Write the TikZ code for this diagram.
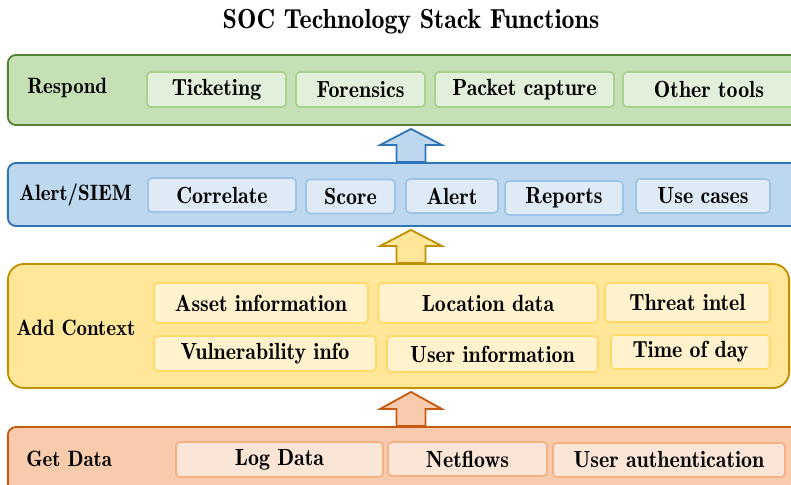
\documentclass[tikz,border=0pt]{standalone}
\usepackage{fontspec}
\newfontfamily\stackfont{lmromandemi10-regular.otf}[FakeStretch=0.94]
\usetikzlibrary{calc}
\definecolor{respFill}{HTML}{C5E0B4}
\definecolor{respLine}{HTML}{548235}
\definecolor{respBoxFill}{HTML}{E2EFDA}
\definecolor{respBoxLine}{HTML}{A9D18E}
\definecolor{siemFill}{HTML}{BDD7EE}
\definecolor{siemLine}{HTML}{2E75B6}
\definecolor{siemBoxFill}{HTML}{DEEBF7}
\definecolor{siemBoxLine}{HTML}{9DC3E6}
\definecolor{ctxFill}{HTML}{FFE699}
\definecolor{ctxLine}{HTML}{BF9000}
\definecolor{ctxBoxFill}{HTML}{FFF2CC}
\definecolor{ctxBoxLine}{HTML}{FFD966}
\definecolor{dataFill}{HTML}{F8CBAD}
\definecolor{dataLine}{HTML}{C55A11}
\definecolor{dataBoxFill}{HTML}{FBE5D6}
\definecolor{dataBoxLine}{HTML}{F4B183}
\begin{document}
\begin{tikzpicture}[
		x=0.025cm, y=-0.025cm,
		every node/.style={font=\stackfont\fontsize{16.6}{19}\selectfont},
		band/.style={draw, rounded corners=0.2cm, line width=1.3pt, inner sep=0pt},
		item/.style={draw, rounded corners=0.1cm, line width=1.2pt, inner sep=0pt},
		layer/.style={anchor=west, inner sep=0pt, font=\stackfont\fontsize{15.8}{18}\selectfont}
		]
		\useasboundingbox (0,0) rectangle (791,485);
		\node[font=\stackfont\fontsize{19.6}{23}\selectfont] (title) at (411,22) {SOC Technology Stack Functions};
		
		% layers
		\node[band, fill=respFill, draw=respLine, minimum width=19.8cm, minimum height=1.75cm] (respond) at (404,90) {};
		\node[band, fill=siemFill, draw=siemLine, minimum width=19.8cm, minimum height=1.575cm] (siem) at (404,194.5) {};
		\node[band, fill=ctxFill, draw=ctxLine, rounded corners=0.4cm, minimum width=19.525cm, minimum height=3.1cm] (context) at (398.5,326) {};
		\node[band, fill=dataFill, draw=dataLine, minimum width=19.8cm, minimum height=1.825cm] (getdata) at (404,463.5) {};
		
		\node[layer] (respondlbl) at (27,88) {Respond};
		\node[layer] (siemlbl) at (19,195) {Alert/SIEM};
		\node[layer] (contextlbl) at (16,328) {Add Context};
		\node[layer] (getdatalbl) at (26,459) {Get Data};
		
		% Respond
		\node[item, fill=respBoxFill, draw=respBoxLine, minimum width=3.475cm, minimum height=0.875cm] (ticket) at (216.5,89.5) {Ticketing};
		\node[item, fill=respBoxFill, draw=respBoxLine, minimum width=3.225cm, minimum height=0.875cm] (forensics) at (360.5,89.5) {Forensics};
		\node[item, fill=respBoxFill, draw=respBoxLine, minimum width=4.475cm, minimum height=0.875cm] (pcap) at (524.5,89.5) {Packet capture};
		\node[item, fill=respBoxFill, draw=respBoxLine, minimum width=4.3cm, minimum height=0.875cm] (othertools) at (709,89.5) {Other tools};
		
		% Alert/SIEM
		\node[item, fill=siemBoxFill, draw=siemBoxLine, minimum width=3.7cm, minimum height=0.85cm] (correlate) at (222,195) {Correlate};
		\node[item, fill=siemBoxFill, draw=siemBoxLine, minimum width=2.225cm, minimum height=0.85cm] (score) at (350.5,196.5) {Score};
		\node[item, fill=siemBoxFill, draw=siemBoxLine, minimum width=2.3cm, minimum height=0.85cm] (alert) at (452,196) {Alert};
		\node[item, fill=siemBoxFill, draw=siemBoxLine, minimum width=2.95cm, minimum height=0.85cm] (reports) at (564,198) {Reports};
		\node[item, fill=siemBoxFill, draw=siemBoxLine, minimum width=3.35cm, minimum height=0.85cm] (usecases) at (703,196) {Use cases};
		
		% Add Context
		\node[item, fill=ctxBoxFill, draw=ctxBoxLine, minimum width=5.35cm, minimum height=1cm] (asset) at (261,303) {Asset information};
		\node[item, fill=ctxBoxFill, draw=ctxBoxLine, minimum width=5.475cm, minimum height=1cm] (location) at (488,303) {Location data};
		\node[item, fill=ctxBoxFill, draw=ctxBoxLine, minimum width=4.125cm, minimum height=0.975cm] (threat) at (687.5,302.5) {Threat intel};
		\node[item, fill=ctxBoxFill, draw=ctxBoxLine, minimum width=5.55cm, minimum height=0.875cm] (vuln) at (265,353.5) {Vulnerability info};
		\node[item, fill=ctxBoxFill, draw=ctxBoxLine, minimum width=5.275cm, minimum height=0.9cm] (userinfo) at (492.5,354) {User information};
		\node[item, fill=ctxBoxFill, draw=ctxBoxLine, minimum width=3.975cm, minimum height=0.85cm] (timeofday) at (690.5,352) {Time of day};
		
		% Get Data
		\node[item, fill=dataBoxFill, draw=dataBoxLine, minimum width=5.175cm, minimum height=0.875cm] (logdata) at (279.5,459.5) {Log Data};
		\node[item, fill=dataBoxFill, draw=dataBoxLine, minimum width=3.975cm, minimum height=0.85cm] (netflows) at (467.5,459) {Netflows};
		\node[item, fill=dataBoxFill, draw=dataBoxLine, minimum width=5.8cm, minimum height=0.85cm] (userauth) at (669,460) {User authentication};
		
		% arrows between layers
		\foreach \lo/\up/\col in {siem/respond/siem, context/siem/ctx, getdata/context/data}
		\draw[line width=1.3pt, fill=\col Fill, draw=\col Line]
			($(\lo.north -| title)+(-14.5,0)$) -- ++(0,-17) -- ++(-16.5,0)
			-- ($(\up.south -| title)+(0,3)$) -- ($(\lo.north -| title)+(31,-17)$)
			-- ++(-16.5,0) -- ++(0,17) -- cycle;
\end{tikzpicture}
\end{document}
